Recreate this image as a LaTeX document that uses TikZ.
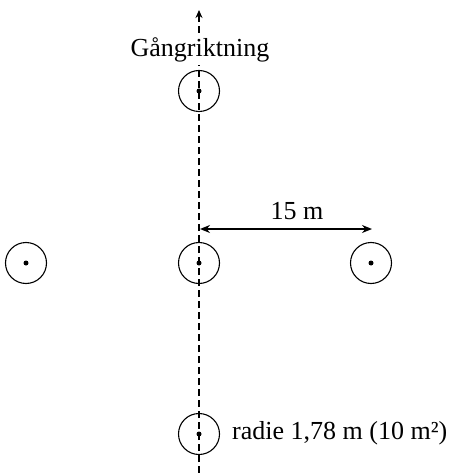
\documentclass[tikz,border=0pt]{standalone}
\usepackage{fontspec}
\setmainfont{Liberation Serif}
\usetikzlibrary{arrows.meta}
\begin{document}
\begin{tikzpicture}[x=1pt,y=-1pt,
  plot/.style={circle,draw,line width=1.1pt,minimum size=41pt,inner sep=0pt},
  dot/.style={circle,fill,minimum size=5pt,inner sep=0pt},
  lbl/.style={font=\fontsize{26}{30}\selectfont,inner sep=1pt}]
\useasboundingbox (0,0) rectangle (467,473);
% walking line
\coordinate (bot) at (199,473);
\coordinate (top) at (199,10);
\draw[line width=2pt,dash pattern=on 7pt off 4pt,-{Stealth[length=8pt,width=7pt]}] (bot) -- (top);
\node[lbl,fill=white,inner sep=3pt] (dir) at (200,50) {Gångriktning};
% plots
\foreach \n/\x/\y in {p1/199/91,p2/26/263,p3/199/263,p4/371/263,p5/199/434}{
  \node[plot] (\n) at (\x,\y) {};
  \node[dot] (\n d) at (\x,\y) {};
}
% dimension
\coordinate (dA) at (200,229);
\coordinate (dB) at (372,229);
\draw[line width=1.8pt,{Stealth[length=10pt,width=8pt]}-{Stealth[length=10pt,width=8pt]}] (dA) -- (dB);
\node[lbl] (dist) at (297,211) {15 m};
\node[lbl,anchor=west] (rad) at (231,433) {radie 1,78 m (10 m²)};
\end{tikzpicture}
\end{document}
